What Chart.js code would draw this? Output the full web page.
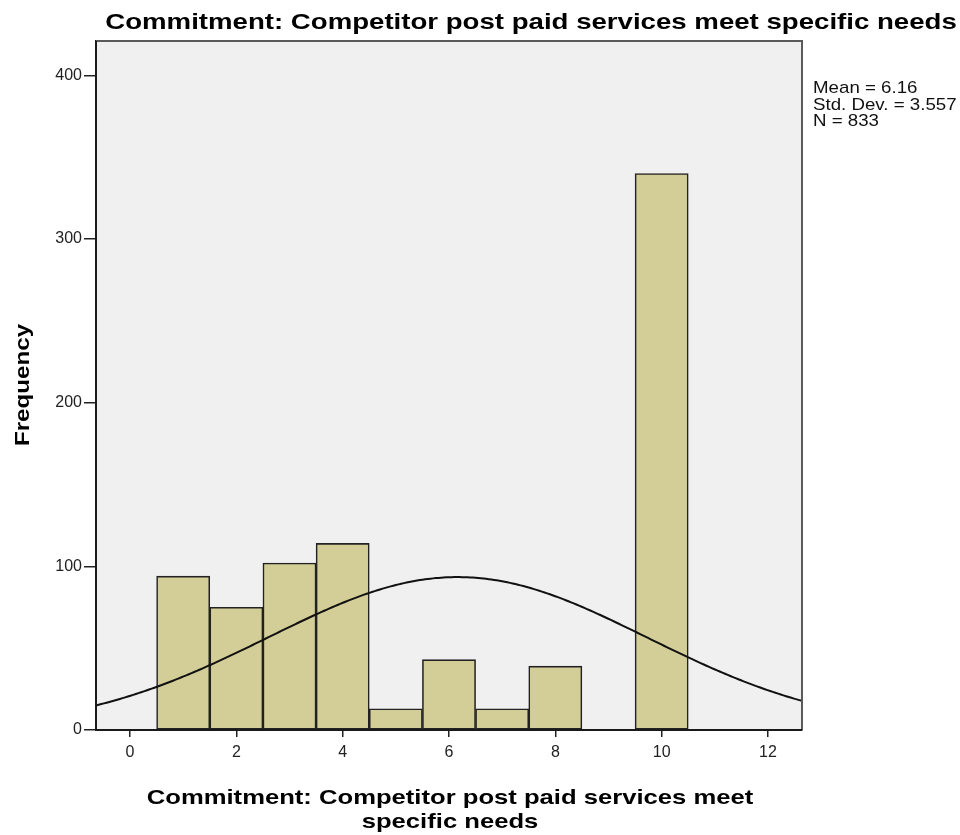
<!DOCTYPE html>
<html>
<head>
<meta charset="utf-8">
<title>Commitment: Competitor post paid services meet specific needs</title>
<script src="https://cdn.jsdelivr.net/npm/chart.js@4.4.1/dist/chart.umd.min.js"></script>
<style>
  html, body { margin: 0; padding: 0; background: #ffffff; }
  #wrap { position: relative; width: 960px; height: 835px; }
  canvas { display: block; }
</style>
</head>
<body>
<div id="wrap"><canvas id="hist" width="960" height="835"></canvas></div>
<script>
// Response scores (histogram bin centres) and how many respondents gave each
const scoreValues = [1, 2, 3, 4, 5, 6, 7, 8, 9, 10];
const frequencies = [94, 75, 102, 114, 13, 43, 13, 39, 0, 340];

// Summary statistics shown beside the plot
const meanValue = 6.16;
const stdDev = 3.557;
const nCases = 833;
const statsLines = ['Mean = ' + meanValue, 'Std. Dev. = ' + stdDev, 'N = ' + nCases];

// Text
const chartTitle = 'Commitment: Competitor post paid services meet specific needs';
const xTitleLines = ['Commitment: Competitor post paid services meet', 'specific needs'];
const yTitle = 'Frequency';

// Axis ranges and tick steps
const xRange = [-0.64, 12.64];
const xTickStep = 2;
const yRange = [0, 421];
const yTickStep = 100;

// Normal curve scaled to counts per unit-width bin, from the stated mean / SD / N
function normalCount(x) {
  const z = (x - meanValue) / stdDev;
  return nCases * Math.exp(-0.5 * z * z) / (stdDev * Math.sqrt(2 * Math.PI));
}
const curvePoints = [];
for (let i = 0; i <= 266; i++) {
  const x = xRange[0] + (xRange[1] - xRange[0]) * i / 266;
  curvePoints.push({ x: x, y: normalCount(x) });
}

const barPoints = scoreValues.map((v, i) => ({ x: v, y: frequencies[i] }));

const FONT = '"Liberation Sans", Arial, Helvetica, sans-serif';

// Grey plot background and the frame around it
const plotFrame = {
  id: 'plotFrame',
  beforeDatasetsDraw(chart) {
    const a = chart.chartArea, ctx = chart.ctx;
    ctx.save();
    ctx.fillStyle = '#f0f0f0';
    ctx.fillRect(a.left, a.top, a.right - a.left, a.bottom - a.top);
    ctx.restore();
  },
  afterDraw(chart) {
    const a = chart.chartArea, ctx = chart.ctx;
    ctx.save();
    ctx.strokeStyle = '#5a5a5a';
    ctx.lineWidth = 2;
    ctx.beginPath();
    ctx.moveTo(a.left, a.top);
    ctx.lineTo(a.right, a.top);
    ctx.lineTo(a.right, a.bottom);
    ctx.stroke();
    ctx.strokeStyle = '#1a1a1a';
    ctx.beginPath();
    ctx.moveTo(a.left, a.top);
    ctx.lineTo(a.left, a.bottom);
    ctx.lineTo(a.right, a.bottom);
    ctx.stroke();
    ctx.restore();
  }
};

// Text drawn with a horizontal stretch so the wide lettering fits its span
function wideText(ctx, text, x, y, stretch) {
  ctx.save();
  ctx.translate(x, y);
  ctx.scale(stretch, 1);
  ctx.fillText(text, 0, 0);
  ctx.restore();
}

// Titles and the statistics block
const chartText = {
  id: 'chartText',
  afterDraw(chart) {
    const ctx = chart.ctx;
    ctx.save();
    ctx.fillStyle = '#000000';
    ctx.textBaseline = 'alphabetic';

    ctx.font = 'bold 22px ' + FONT;
    ctx.textAlign = 'center';
    wideText(ctx, chartTitle, 531, 29, 1.255);

    ctx.font = 'bold 21px ' + FONT;
    wideText(ctx, xTitleLines[0], 450, 804, 1.22);
    wideText(ctx, xTitleLines[1], 450, 828, 1.22);

    ctx.save();
    ctx.translate(29, 385);
    ctx.rotate(-Math.PI / 2);
    wideText(ctx, yTitle, 0, 0, 1.15);
    ctx.restore();

    ctx.font = '17px ' + FONT;
    ctx.fillStyle = '#111111';
    ctx.textAlign = 'left';
    statsLines.forEach((t, i) => wideText(ctx, t, 813, 93 + i * 16.5, 1.1));
    ctx.restore();
  }
};

new Chart(document.getElementById('hist'), {
  data: {
    datasets: [
      {
        type: 'line',
        data: curvePoints,
        borderColor: '#111111',
        borderWidth: 2,
        pointRadius: 0,
        tension: 0,
        order: 0
      },
      {
        type: 'bar',
        data: barPoints,
        backgroundColor: '#d3ce97',
        borderColor: '#222222',
        borderWidth: ctx => (ctx.raw && ctx.raw.y > 0 ? 1.6 : 0),
        borderSkipped: false,
        barPercentage: 1.0,
        categoryPercentage: 1.0,
        order: 1
      }
    ]
  },
  options: {
    responsive: false,
    animation: false,
    devicePixelRatio: 1,
    layout: { padding: { top: 41, right: 158, bottom: 0, left: 0 } },
    plugins: {
      legend: { display: false },
      tooltip: { enabled: false },
      title: { display: false }
    },
    scales: {
      x: {
        type: 'linear',
        min: xRange[0],
        max: xRange[1],
        offset: false,
        afterFit(scale) { scale.height = 105; },
        ticks: {
          stepSize: xTickStep,
          includeBounds: false,
          color: '#222222',
          font: { family: FONT, size: 16 },
          padding: 6,
          maxRotation: 0
        },
        grid: { offset: false, drawOnChartArea: false, drawTicks: true, tickLength: 7, color: '#222222', lineWidth: 1.5 },
        border: { display: true, color: '#1a1a1a', width: 2 }
      },
      y: {
        type: 'linear',
        min: yRange[0],
        max: yRange[1],
        afterFit(scale) { scale.width = 96; },
        ticks: {
          stepSize: yTickStep,
          includeBounds: false,
          color: '#222222',
          font: { family: FONT, size: 16 },
          padding: 2
        },
        grid: { drawOnChartArea: false, drawTicks: true, tickLength: 12, color: '#222222', lineWidth: 1.5 },
        border: { display: true, color: '#1a1a1a', width: 2 }
      }
    }
  },
  plugins: [plotFrame, chartText]
});
</script>
</body>
</html>
